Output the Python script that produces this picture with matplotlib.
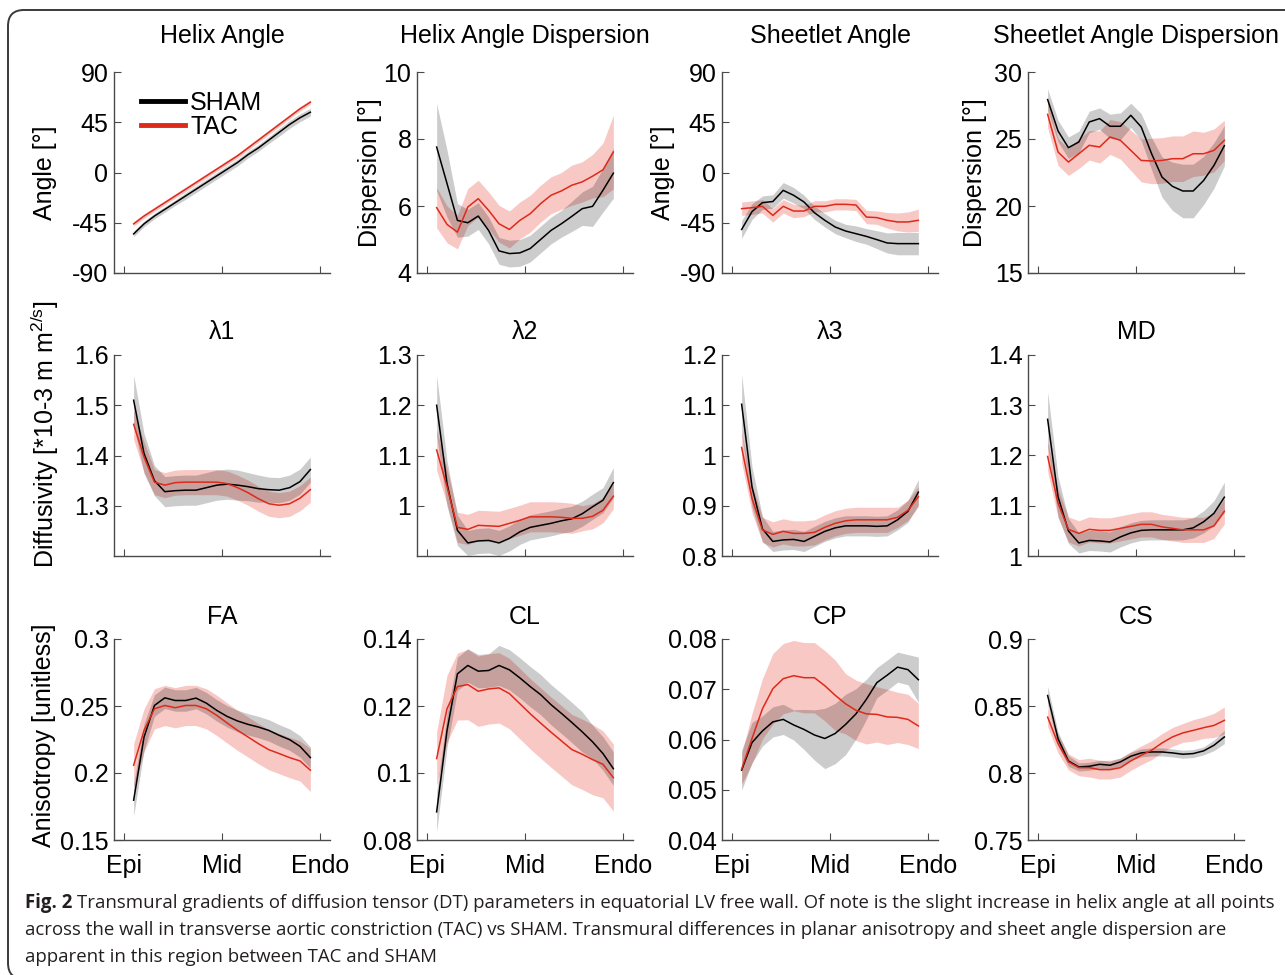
import matplotlib
matplotlib.use('Agg')
import matplotlib.pyplot as plt
import numpy as np
from matplotlib.patches import FancyBboxPatch
from matplotlib.lines import Line2D
from matplotlib.transforms import IdentityTransform

plt.rcParams['font.family'] = ['Liberation Sans', 'DejaVu Sans']
plt.rcParams['mathtext.fontset'] = 'custom'
plt.rcParams['mathtext.rm'] = 'Liberation Sans'

# transmural position, epi -> endo
depth = np.linspace(0.05, 0.95, 18)
pos_ticks = [0, 0.5, 1]
pos_labels = ['Epi', 'Mid', 'Endo']

# helix angle
ha_sham = [-55, -46, -39, -33, -27, -21, -15, -9, -3, 3, 9, 16, 22, 29, 36, 43, 49, 54]
ha_sham_sd = [2.5, 2.5, 2.5, 2.5, 2.5, 3, 3, 3, 3, 3, 3, 3, 3, 3, 3.5, 3.5, 3.5, 3.5]
ha_tac = [-46, -39, -33, -27, -21, -15, -9, -3, 3, 9, 15, 22, 29, 36, 43, 50, 57, 63]
ha_tac_sd = [2, 2, 2, 2, 2, 2, 2, 2, 2, 2, 2, 2, 2, 2, 2, 2, 2, 2]
# helix angle dispersion
had_sham = [7.76, 6.67, 5.57, 5.5, 5.7, 5.27, 4.66, 4.58, 4.6, 4.73, 5.0, 5.27, 5.47, 5.69, 5.92, 5.99, 6.47, 6.98]
had_sham_sd = [1.3, 1.0, 0.5, 0.4, 0.4, 0.4, 0.4, 0.4, 0.4, 0.4, 0.4, 0.4, 0.4, 0.45, 0.5, 0.6, 0.65, 0.75]
had_tac = [5.95, 5.45, 5.22, 5.97, 6.22, 5.87, 5.47, 5.3, 5.57, 5.77, 6.07, 6.32, 6.45, 6.62, 6.72, 6.89, 7.08, 7.61]
had_tac_sd = [0.6, 0.55, 0.5, 0.55, 0.55, 0.55, 0.55, 0.55, 0.55, 0.55, 0.55, 0.55, 0.55, 0.6, 0.6, 0.65, 0.8, 1.1]
# sheetlet angle
sa_sham = [-51, -35, -27, -26, -16, -20.4, -26.4, -36, -42.8, -48.8, -52.4, -54.8, -57.2, -60.1, -63.1, -63.7, -63.7, -63.7]
sa_sham_sd = [8, 7, 6, 6, 7, 7, 6, 6, 6, 6, 6, 7, 7, 8, 9, 10, 10, 10]
sa_tac = [-32.4, -31.5, -30.3, -38.4, -30.3, -34.5, -34.5, -30.3, -30.3, -28.5, -28.5, -29.1, -39.9, -40.4, -42.8, -44.3, -44.3, -42.8]
sa_tac_sd = [6, 6, 6, 6, 6, 6, 5, 5, 5, 5, 5, 5, 6, 6, 7, 8, 9, 10]
# sheetlet angle dispersion
sad_sham = [27.94, 25.6, 24.35, 24.78, 26.27, 26.52, 25.95, 25.95, 26.77, 25.9, 23.9, 22.16, 21.47, 21.12, 21.12, 21.9, 23.03, 24.5]
sad_sham_sd = [0.8, 0.8, 0.8, 0.8, 0.8, 0.8, 0.9, 1.0, 0.9, 1.0, 1.2, 1.5, 1.8, 2.0, 2.0, 1.8, 1.7, 1.5]
sad_tac = [26.84, 24.03, 23.28, 23.9, 24.53, 24.4, 25.15, 24.9, 24.15, 23.4, 23.36, 23.4, 23.53, 23.53, 23.9, 23.9, 24.15, 24.9]
sad_tac_sd = [1.0, 1.0, 1.0, 1.1, 1.1, 1.2, 1.3, 1.4, 1.5, 1.6, 1.7, 1.7, 1.7, 1.7, 1.7, 1.6, 1.6, 1.5]
# lambda 1
l1_sham = [1.51, 1.404, 1.35, 1.328, 1.33, 1.331, 1.331, 1.336, 1.341, 1.343, 1.341, 1.338, 1.334, 1.332, 1.331, 1.336, 1.348, 1.372]
l1_sham_sd = [0.05, 0.04, 0.03, 0.03, 0.03, 0.03, 0.03, 0.03, 0.03, 0.03, 0.03, 0.028, 0.027, 0.025, 0.025, 0.025, 0.025, 0.025]
l1_tac = [1.462, 1.397, 1.347, 1.341, 1.346, 1.347, 1.347, 1.347, 1.347, 1.344, 1.336, 1.326, 1.314, 1.304, 1.301, 1.304, 1.315, 1.332]
l1_tac_sd = [0.03, 0.03, 0.025, 0.025, 0.025, 0.025, 0.025, 0.025, 0.025, 0.025, 0.025, 0.025, 0.025, 0.025, 0.025, 0.025, 0.025, 0.025]
# lambda 2
l2_sham = [1.2, 1.044, 0.951, 0.926, 0.93, 0.931, 0.926, 0.935, 0.948, 0.957, 0.961, 0.965, 0.970, 0.974, 0.984, 0.998, 1.011, 1.046]
l2_sham_sd = [0.06, 0.045, 0.03, 0.025, 0.025, 0.025, 0.025, 0.025, 0.025, 0.025, 0.025, 0.025, 0.025, 0.025, 0.025, 0.025, 0.025, 0.03]
l2_tac = [1.111, 1.038, 0.957, 0.953, 0.961, 0.960, 0.959, 0.965, 0.971, 0.978, 0.978, 0.978, 0.977, 0.975, 0.975, 0.979, 0.991, 1.019]
l2_tac_sd = [0.04, 0.035, 0.03, 0.03, 0.03, 0.03, 0.03, 0.03, 0.03, 0.03, 0.03, 0.03, 0.03, 0.03, 0.025, 0.025, 0.025, 0.025]
# lambda 3
l3_sham = [1.102, 0.937, 0.854, 0.829, 0.832, 0.833, 0.829, 0.839, 0.849, 0.856, 0.860, 0.860, 0.860, 0.859, 0.860, 0.872, 0.889, 0.927]
l3_sham_sd = [0.06, 0.04, 0.025, 0.02, 0.02, 0.02, 0.02, 0.02, 0.02, 0.02, 0.02, 0.02, 0.02, 0.02, 0.02, 0.02, 0.022, 0.025]
l3_tac = [1.016, 0.914, 0.852, 0.843, 0.849, 0.845, 0.845, 0.847, 0.857, 0.865, 0.870, 0.872, 0.872, 0.872, 0.872, 0.877, 0.891, 0.918]
l3_tac_sd = [0.03, 0.028, 0.025, 0.025, 0.025, 0.025, 0.025, 0.025, 0.025, 0.025, 0.025, 0.025, 0.025, 0.025, 0.025, 0.02, 0.02, 0.02]
# mean diffusivity
md_sham = [1.272, 1.118, 1.05, 1.026, 1.031, 1.030, 1.028, 1.038, 1.046, 1.051, 1.052, 1.052, 1.052, 1.052, 1.056, 1.068, 1.085, 1.117]
md_sham_sd = [0.055, 0.04, 0.025, 0.02, 0.02, 0.02, 0.02, 0.02, 0.02, 0.02, 0.02, 0.02, 0.02, 0.02, 0.02, 0.022, 0.025, 0.03]
md_tac = [1.198, 1.105, 1.053, 1.045, 1.053, 1.051, 1.051, 1.055, 1.059, 1.063, 1.063, 1.058, 1.055, 1.052, 1.052, 1.052, 1.060, 1.089]
md_tac_sd = [0.03, 0.028, 0.025, 0.025, 0.025, 0.025, 0.025, 0.025, 0.025, 0.025, 0.025, 0.025, 0.025, 0.025, 0.025, 0.025, 0.025, 0.025]
# fractional anisotropy
fa_sham = [0.1797, 0.2268, 0.2504, 0.2561, 0.2541, 0.2541, 0.2559, 0.2521, 0.2467, 0.2422, 0.2388, 0.2363, 0.2343, 0.2318, 0.2281, 0.2249, 0.2199, 0.2115]
fa_sham_sd = [0.012, 0.01, 0.008, 0.008, 0.008, 0.008, 0.008, 0.008, 0.008, 0.008, 0.008, 0.008, 0.008, 0.008, 0.008, 0.008, 0.008, 0.008]
fa_tac = [0.2058, 0.2318, 0.2479, 0.2504, 0.2487, 0.2504, 0.2504, 0.2479, 0.2430, 0.2373, 0.2318, 0.2269, 0.2219, 0.2174, 0.2145, 0.2115, 0.2090, 0.2021]
fa_tac_sd = [0.016, 0.016, 0.015, 0.015, 0.015, 0.015, 0.015, 0.015, 0.015, 0.015, 0.015, 0.015, 0.015, 0.015, 0.015, 0.015, 0.015, 0.016]
# linear anisotropy
cl_sham = [0.0884, 0.1127, 0.1296, 0.1321, 0.1304, 0.1306, 0.1321, 0.1308, 0.1284, 0.1258, 0.1234, 0.1204, 0.1178, 0.1151, 0.1123, 0.1093, 0.1058, 0.1013]
cl_sham_sd = [0.006, 0.005, 0.005, 0.005, 0.005, 0.005, 0.006, 0.006, 0.006, 0.006, 0.006, 0.006, 0.006, 0.006, 0.006, 0.005, 0.005, 0.005]
cl_tac = [0.1043, 0.1192, 0.1258, 0.1264, 0.1244, 0.1251, 0.1254, 0.1237, 0.1207, 0.1177, 0.1149, 0.1122, 0.1096, 0.1070, 0.1056, 0.1040, 0.1026, 0.0986]
cl_tac_sd = [0.008, 0.01, 0.01, 0.0105, 0.0105, 0.0105, 0.0105, 0.0105, 0.0105, 0.0105, 0.0105, 0.0105, 0.0105, 0.0105, 0.0105, 0.0105, 0.01, 0.01]
# planar anisotropy
cp_sham = [0.0539, 0.0594, 0.0617, 0.0635, 0.0640, 0.0629, 0.0620, 0.0609, 0.0602, 0.0612, 0.0630, 0.0651, 0.0680, 0.0713, 0.0728, 0.0744, 0.0739, 0.0719]
cp_sham_sd = [0.004, 0.004, 0.003, 0.003, 0.003, 0.003, 0.004, 0.005, 0.006, 0.006, 0.006, 0.005, 0.004, 0.003, 0.003, 0.003, 0.003, 0.0045]
cp_tac = [0.0541, 0.0602, 0.0661, 0.0701, 0.0721, 0.0727, 0.0723, 0.0723, 0.0707, 0.0688, 0.0671, 0.0658, 0.0651, 0.0650, 0.0645, 0.0644, 0.0640, 0.0627]
cp_tac_sd = [0.003, 0.005, 0.006, 0.007, 0.007, 0.007, 0.007, 0.007, 0.007, 0.007, 0.006, 0.006, 0.006, 0.0055, 0.0055, 0.005, 0.005, 0.0045]
# spherical anisotropy
cs_sham = [0.8578, 0.8256, 0.8090, 0.8045, 0.8050, 0.8065, 0.8058, 0.8083, 0.8125, 0.8150, 0.8157, 0.8157, 0.8150, 0.8140, 0.8145, 0.8165, 0.8207, 0.8269]
cs_sham_sd = [0.007, 0.005, 0.004, 0.003, 0.003, 0.003, 0.003, 0.003, 0.003, 0.003, 0.003, 0.003, 0.003, 0.003, 0.003, 0.003, 0.004, 0.005]
cs_tac = [0.8417, 0.8219, 0.8083, 0.8040, 0.8040, 0.8025, 0.8025, 0.8040, 0.8090, 0.8132, 0.8170, 0.8224, 0.8269, 0.8299, 0.8318, 0.8338, 0.8355, 0.8393]
cs_tac_sd = [0.007, 0.007, 0.006, 0.006, 0.007, 0.007, 0.007, 0.007, 0.007, 0.007, 0.007, 0.007, 0.007, 0.007, 0.008, 0.008, 0.009, 0.01]

diff_label = 'Diffusivity [*10-3 m m$\\mathregular{^{2/s}}$]'
panels = [
    ('Helix Angle', ha_sham, ha_sham_sd, ha_tac, ha_tac_sd, (-90, 90), [-90, -45, 0, 45, 90], ['-90', '-45', '0', '45', '90'], 'Angle [°]', (-0.265, 0.5)),
    ('Helix Angle Dispersion', had_sham, had_sham_sd, had_tac, had_tac_sd, (4, 10), [4, 6, 8, 10], ['4', '6', '8', '10'], 'Dispersion [°]', (-0.162, 0.5)),
    ('Sheetlet Angle', sa_sham, sa_sham_sd, sa_tac, sa_tac_sd, (-90, 90), [-90, -45, 0, 45, 90], ['-90', '-45', '0', '45', '90'], 'Angle [°]', (-0.219, 0.5)),
    ('Sheetlet Angle Dispersion', sad_sham, sad_sham_sd, sad_tac, sad_tac_sd, (15, 30), [15, 20, 25, 30], ['15', '20', '25', '30'], 'Dispersion [°]', (-0.192, 0.5)),
    ('λ1', l1_sham, l1_sham_sd, l1_tac, l1_tac_sd, (1.2, 1.6), [1.3, 1.4, 1.5, 1.6], ['1.3', '1.4', '1.5', '1.6'], diff_label, (-0.245, 0.607)),
    ('λ2', l2_sham, l2_sham_sd, l2_tac, l2_tac_sd, (0.9, 1.3), [1.0, 1.1, 1.2, 1.3], ['1', '1.1', '1.2', '1.3'], None, None),
    ('λ3', l3_sham, l3_sham_sd, l3_tac, l3_tac_sd, (0.8, 1.2), [0.8, 0.9, 1.0, 1.1, 1.2], ['0.8', '0.9', '1', '1.1', '1.2'], None, None),
    ('MD', md_sham, md_sham_sd, md_tac, md_tac_sd, (1.0, 1.4), [1.0, 1.1, 1.2, 1.3, 1.4], ['1', '1.1', '1.2', '1.3', '1.4'], None, None),
    ('FA', fa_sham, fa_sham_sd, fa_tac, fa_tac_sd, (0.15, 0.3), [0.15, 0.2, 0.25, 0.3], ['0.15', '0.2', '0.25', '0.3'], 'Anisotropy [unitless]', (-0.268, 0.52)),
    ('CL', cl_sham, cl_sham_sd, cl_tac, cl_tac_sd, (0.08, 0.14), [0.08, 0.1, 0.12, 0.14], ['0.08', '0.1', '0.12', '0.14'], None, None),
    ('CP', cp_sham, cp_sham_sd, cp_tac, cp_tac_sd, (0.04, 0.08), [0.04, 0.05, 0.06, 0.07, 0.08], ['0.04', '0.05', '0.06', '0.07', '0.08'], None, None),
    ('CS', cs_sham, cs_sham_sd, cs_tac, cs_tac_sd, (0.75, 0.9), [0.75, 0.8, 0.85, 0.9], ['0.75', '0.8', '0.85', '0.9'], None, None),
]

W, H = 1285, 975
fig = plt.figure(figsize=(W / 100, H / 100), dpi=100)

# rounded frame
frame = FancyBboxPatch((8, -4), 1320, 965 + 4, boxstyle='round,pad=0,rounding_size=16',
                       transform=IdentityTransform(), fc='none', ec='#3a3a3a', lw=1.4)
fig.patches.append(frame)

lefts = [114, 417, 722, 1028]
bottoms = [273, 556, 840]
aw, ah = 216, 201
title_off = [1.18, 1.112, 1.108]
red = '#dd2a1a'
spine_c = '#4a4a4a'
fsz = 18

for k, (title, s, s_sd, t, t_sd, ylim, yt, ytl, ylab, ylab_pos) in enumerate(panels):
    row, col = divmod(k, 4)
    ax = fig.add_axes([lefts[col] / W, 1 - bottoms[row] / H, aw / W, ah / H])
    s, s_sd, t, t_sd = map(np.array, (s, s_sd, t, t_sd))
    ax.fill_between(depth, t - t_sd, t + t_sd, color=(0.9, 0.15, 0.1), alpha=0.25, lw=0)
    ax.fill_between(depth, s - s_sd, s + s_sd, color='k', alpha=0.2, lw=0)
    ax.plot(depth, s, color='k', lw=1.1)
    ax.plot(depth, t, color=red, lw=1.1)
    ax.set_xlim(-0.05, 1.05)
    ax.set_ylim(*ylim)
    ax.set_yticks(yt)
    ax.set_yticklabels(ytl)
    ax.set_xticks(pos_ticks)
    if row == 2:
        ax.set_xticklabels(pos_labels)
    else:
        ax.set_xticklabels([])
    for side in ('top', 'right'):
        ax.spines[side].set_visible(False)
    for side in ('left', 'bottom'):
        ax.spines[side].set_color(spine_c)
        ax.spines[side].set_linewidth(1.0)
    ax.tick_params(axis='y', direction='in', length=5, width=0.8, color=spine_c, labelsize=fsz, pad=4)
    ax.tick_params(axis='x', direction='in', length=5, width=0.8, color=spine_c, labelsize=fsz, pad=10)
    ax.patch.set_alpha(0)
    ax.text(0.5, title_off[row], title, transform=ax.transAxes, ha='center', va='center', fontsize=fsz)
    if ylab:
        ax.set_ylabel(ylab, fontsize=fsz)
        ax.yaxis.set_label_coords(*ylab_pos)
    if k == 0:
        handles = [Line2D([], [], color='k', lw=3.5), Line2D([], [], color=red, lw=3.5)]
        ax.legend(handles, ['SHAM', 'TAC'], loc='upper left', bbox_to_anchor=(0.08, 0.955),
                  frameon=False, fontsize=fsz, handlelength=1.75, handletextpad=0.2,
                  labelspacing=0.0, borderaxespad=0)

# caption
cap_c = '#231f20'
lines = ['Transmural gradients of diffusion tensor (DT) parameters in equatorial LV free wall. Of note is the slight increase in helix angle at all points',
         'across the wall in transverse aortic constriction (TAC) vs SHAM. Transmural differences in planar anisotropy and sheet angle dispersion are',
         'apparent in this region between TAC and SHAM']
ys = [903, 930, 957]
fs = 12
r = fig.canvas.get_renderer()
tb = fig.text(25 / W, 1 - ys[0] / H, 'Fig. 2', fontweight='bold', fontsize=fs, family='Open Sans', color=cap_c, va='center')
t1 = fig.text(0, 1 - ys[0] / H, lines[0], fontsize=fs, family='Open Sans', color=cap_c, va='center')
wb = tb.get_window_extent(r).width
w1 = t1.get_window_extent(r).width
scale = (1268 - 25) / (wb + 5 + w1)
fs = fs * scale
tb.set_fontsize(fs)
t1.set_fontsize(fs)
wb = tb.get_window_extent(r).width
t1.set_x((25 + wb + 5) / W)
for ln, y in zip(lines[1:], ys[1:]):
    fig.text(25 / W, 1 - y / H, ln, fontsize=fs, family='Open Sans', color=cap_c, va='center')

fig.savefig('out.png', dpi=100)
